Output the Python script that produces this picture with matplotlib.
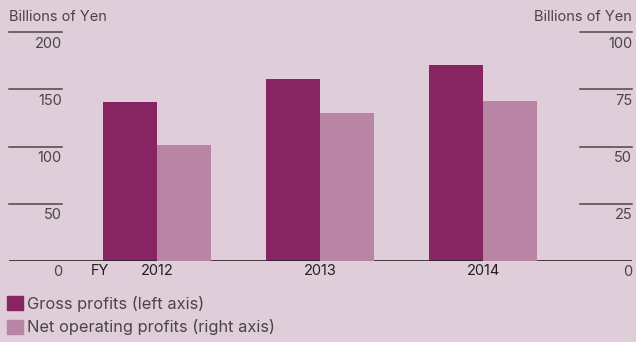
import matplotlib
matplotlib.use("Agg")
import matplotlib.pyplot as plt
import matplotlib.transforms as mtrans
from matplotlib.patches import Patch

years = ["2012", "2013", "2014"]
gross = [139, 159, 171.5]   # left axis
net = [50.7, 64.7, 70]      # right axis
left_ticks = [0, 50, 100, 150, 200]
right_ticks = [0, 25, 50, 75, 100]

bg = "#dfcdd9"
c_gross = "#872562"
c_net = "#b985a5"
txt = "#4a4448"

plt.rcParams["font.family"] = ["Inter", "DejaVu Sans"]

W, H = 636, 342
fig = plt.figure(figsize=(W / 100, H / 100), dpi=100, facecolor=bg)
# axes spans from baseline (y=260.5px) to 200-line (y=32.5px)
ax = fig.add_axes([9 / W, (H - 260.5) / H, 623 / W, 228 / H])
ax.set_facecolor("none")
ax2 = ax.twinx()
ax2.set_facecolor("none")

x = list(range(len(years)))
w = 0.331
ax.bar([i - w / 2 for i in x], gross, width=w, color=c_gross, zorder=2)
ax2.bar([i + w / 2 for i in x], net, width=w, color=c_net, zorder=2)

ax.set_xlim(-0.911, 2.914)
ax.set_ylim(0, 200)
ax2.set_ylim(0, 100)
for a in (ax, ax2):
    for s in a.spines.values():
        s.set_visible(False)
    a.set_xticks([])
    a.set_yticks([])

# baseline
ax.axhline(0, color="#2a2428", lw=1.2, zorder=3)

# custom tick lines and labels
tl = mtrans.blended_transform_factory(ax.transAxes, ax.transData)
tr = mtrans.blended_transform_factory(ax2.transAxes, ax2.transData)
for v in left_ticks:
    if v > 0:
        ax.plot([0, 53 / 623], [v, v], transform=tl, color="#4f444c", lw=1.1, clip_on=False)
    ax.text(53 / 623, v, str(v), transform=mtrans.offset_copy(tl, fig, y=-11.5, units="dots"),
            ha="right", va="center", fontsize=10.5, color=txt)
for v in right_ticks:
    if v > 0:
        ax2.plot([571 / 623, 1], [v, v], transform=tr, color="#4f444c", lw=1.1, clip_on=False)
    ax2.text(1, v, str(v), transform=mtrans.offset_copy(tr, fig, y=-11.5, units="dots"),
             ha="right", va="center", fontsize=10.5, color=txt)

# category labels
xl = mtrans.offset_copy(mtrans.blended_transform_factory(ax.transData, ax.transData),
                        fig, y=-10.5, units="dots")
for i, yr in enumerate(years):
    ax.text(i, 0, yr, transform=xl, ha="center", va="center", fontsize=10.5,
            color="#231e21")
fig.text(100 / W, 1 - 271 / H, "FY", ha="center", va="center", fontsize=10.5,
         color="#231e21")

fig.text(9 / W, 1 - 17 / H, "Billions of Yen", ha="left", va="center", fontsize=10.5,
         color=txt)
fig.text(632 / W, 1 - 17 / H, "Billions of Yen", ha="right", va="center", fontsize=10.5,
         color=txt)

handles = [Patch(color=c_gross), Patch(color=c_net)]
fig.legend(handles, ["Gross profits (left axis)", "Net operating profits (right axis)"],
           loc="upper left", bbox_to_anchor=(7 / W, 1 - 296 / H), frameon=False,
           handlelength=0.95, handleheight=0.95, handletextpad=0.3, labelspacing=0.45,
           borderpad=0, borderaxespad=0, prop={"size": 11.8}, labelcolor=txt)

fig.savefig("out.png", dpi=100, facecolor=bg)
